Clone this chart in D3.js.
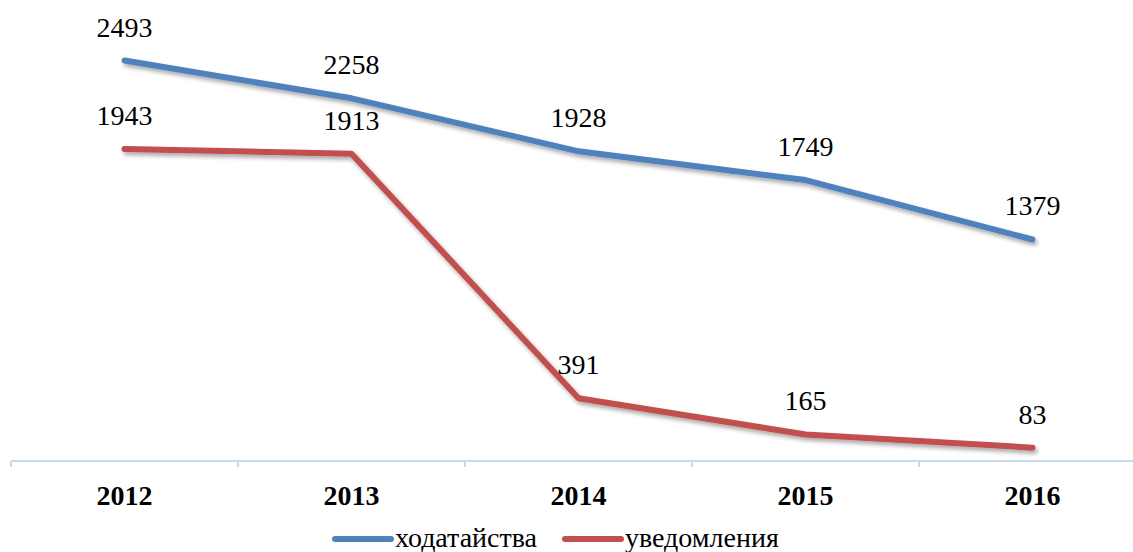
<!DOCTYPE html>
<html>
<head>
<meta charset="utf-8">
<script src="https://cdn.jsdelivr.net/npm/d3@7"></script>
<style>
  body { margin: 0; background: #fff; }
</style>
</head>
<body>
<div id="chart"></div>
<script>
"use strict";

let years = ["2012", "2013", "2014", "2015", "2016"];
let petitions = [2493, 2258, 1928, 1749, 1379];
let notices = [1943, 1913, 391, 165, 83];
let seriesNames = ["ходатайства", "уведомления"];
let seriesColors = ["#4F81BD", "#C0504D"];

let fontFamily = "Liberation Serif";
let width = 1133, height = 552;
let margin = { left: 11, right: -13, top: 0, bottom: 91 };

let svg = d3.select("#chart").append("svg")
  .attr("width", width)
  .attr("height", height);

let defs = svg.append("defs");
let shadow = defs.append("filter")
  .attr("id", "shadow")
  .attr("x", "-10%").attr("y", "-50%")
  .attr("width", "120%").attr("height", "200%");
shadow.append("feDropShadow")
  .attr("dx", 2).attr("dy", 3)
  .attr("stdDeviation", 2)
  .attr("flood-color", "#000")
  .attr("flood-opacity", 0.35);

let xScale = d3.scaleBand()
  .domain(years)
  .range([margin.left, width - margin.right]);

let yScale = d3.scaleLinear()
  .domain([0, 2870])
  .range([height - margin.bottom, margin.top]);

let xCenter = d => xScale(d) + xScale.bandwidth() / 2;

// x axis
let xAxis = d3.axisBottom(xScale).tickSize(0).tickFormat("");
let axisG = svg.append("g")
  .attr("transform", "translate(0," + yScale(0) + ")")
  .call(xAxis);
axisG.select(".domain").remove();
axisG.append("line")
  .attr("x1", margin.left).attr("x2", width)
  .attr("stroke", "#C6D9F1").attr("stroke-width", 2);
axisG.selectAll(".sep")
  .data(years)
  .enter().append("line")
  .attr("class", "sep")
  .attr("x1", d => xScale(d)).attr("x2", d => xScale(d))
  .attr("y1", 0).attr("y2", 6)
  .attr("stroke", "#C6D9F1").attr("stroke-width", 2);
axisG.selectAll(".yearLabel")
  .data(years)
  .enter().append("text")
  .attr("class", "yearLabel")
  .attr("x", d => xCenter(d))
  .attr("y", 44)
  .attr("text-anchor", "middle")
  .attr("font-family", fontFamily)
  .attr("font-weight", "bold")
  .attr("font-size", 28)
  .attr("fill", "#000")
  .text(d => d);

// lines
let line = d3.line()
  .x((d, i) => xCenter(years[i]))
  .y(d => yScale(d));

let series = [petitions, notices];

svg.append("g").selectAll(".seriesPath")
  .data(series)
  .enter().append("path")
  .attr("class", "seriesPath")
  .attr("d", d => line(d))
  .attr("fill", "none")
  .attr("stroke", (d, i) => seriesColors[i])
  .attr("stroke-width", 6)
  .attr("stroke-linecap", "round")
  .attr("stroke-linejoin", "round")
  .attr("filter", "url(#shadow)");

// data labels
series.forEach(function(values) {
  svg.append("g").selectAll("text")
    .data(values)
    .enter().append("text")
    .attr("x", (d, i) => xCenter(years[i]))
    .attr("y", d => yScale(d) - 24)
    .attr("text-anchor", "middle")
    .attr("font-family", fontFamily)
    .attr("font-size", 28)
    .attr("fill", "#000")
    .text(d => d);
});

// legend
let legendX = [335, 565];
let legend = svg.append("g").attr("transform", "translate(0,539)");
seriesNames.forEach(function(name, i) {
  legend.append("line")
    .attr("x1", legendX[i]).attr("x2", legendX[i] + 56)
    .attr("stroke", seriesColors[i])
    .attr("stroke-width", 6)
    .attr("stroke-linecap", "round");
  legend.append("text")
    .attr("x", legendX[i] + 60)
    .attr("y", 8)
    .attr("font-family", fontFamily)
    .attr("font-size", 28)
    .attr("fill", "#000")
    .text(name);
});
</script>
</body>
</html>
